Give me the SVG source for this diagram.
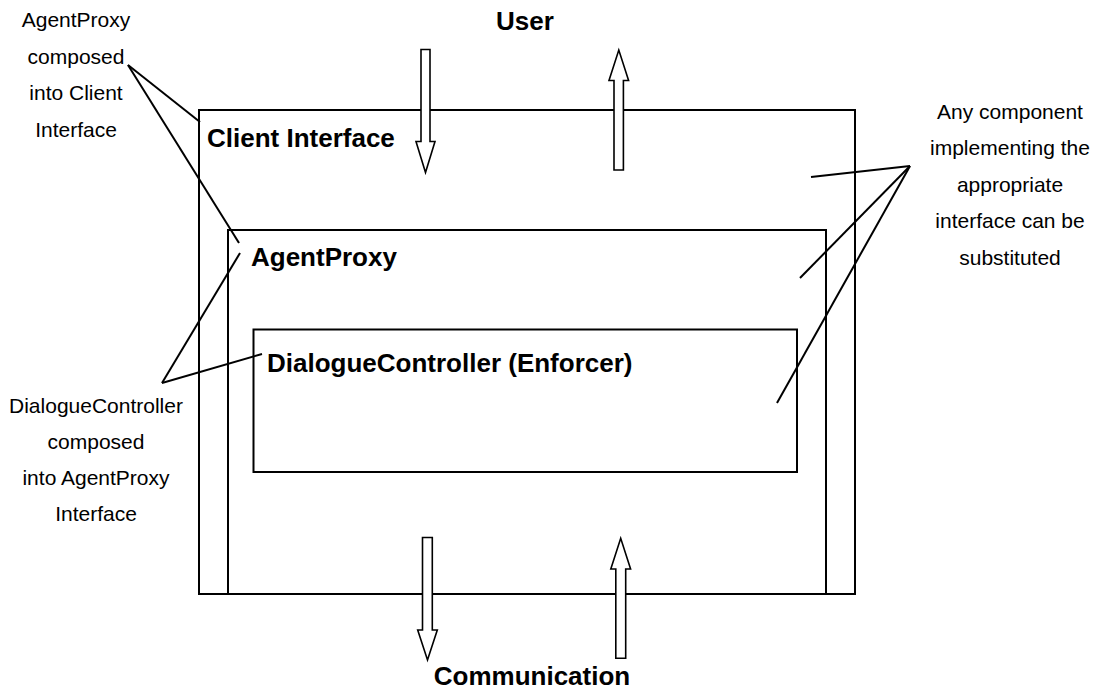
<svg xmlns="http://www.w3.org/2000/svg" width="1098" height="697" viewBox="0 0 1098 697">
  <style>
    .box { fill: none; stroke: #000; stroke-width: 2; }
    .title { font-family: "Liberation Sans", Arial, sans-serif; font-weight: bold; font-size: 26px; fill: #000; }
    .note { font-family: "Liberation Sans", Arial, sans-serif; font-size: 21px; fill: #000; text-anchor: middle; }
    .leader { stroke: #000; stroke-width: 2; fill: none; }
    .flow { fill: #fff; stroke: #000; stroke-width: 1.6; stroke-linejoin: miter; }
  </style>
  <rect width="1098" height="697" fill="#fff"/>

  <!-- nested components -->
  <g id="client-interface">
    <rect class="box" x="199" y="110" width="656" height="484"/>
    <text class="title" x="207" y="147">Client Interface</text>
  </g>
  <g id="agent-proxy">
    <rect class="box" x="228" y="230" width="598" height="364"/>
    <text class="title" x="251" y="266">AgentProxy</text>
  </g>
  <g id="dialogue-controller">
    <rect class="box" x="253.5" y="329.5" width="543.5" height="142.5"/>
    <text class="title" x="267" y="372">DialogueController (Enforcer)</text>
  </g>

  <!-- external endpoints -->
  <g id="user">
    <text class="title" x="525" y="30" text-anchor="middle">User</text>
  </g>
  <g id="communication">
    <text class="title" x="532" y="685" text-anchor="middle">Communication</text>
  </g>

  <!-- annotations -->
  <g id="note-agentproxy">
    <text class="note" x="76" y="27">AgentProxy</text>
    <text class="note" x="76" y="63.5">composed</text>
    <text class="note" x="76" y="100">into Client</text>
    <text class="note" x="76" y="136.5">Interface</text>
  </g>
  <g id="note-dialogue">
    <text class="note" x="96" y="412.5">DialogueController</text>
    <text class="note" x="96" y="448.5">composed</text>
    <text class="note" x="96" y="484.5">into AgentProxy</text>
    <text class="note" x="96" y="520.5">Interface</text>
  </g>
  <g id="note-substitution">
    <text class="note" x="1010" y="118.5">Any component</text>
    <text class="note" x="1010" y="155">implementing the</text>
    <text class="note" x="1010" y="191.5">appropriate</text>
    <text class="note" x="1010" y="228">interface can be</text>
    <text class="note" x="1010" y="264.5">substituted</text>
  </g>

  <!-- connectors: annotation leaders and data-flow arrows -->
  <g id="connectors">
    <line class="leader" x1="128" y1="65" x2="200" y2="122"/>
    <line class="leader" x1="128" y1="65" x2="239" y2="243"/>
    <line class="leader" x1="162" y1="383" x2="240" y2="253"/>
    <line class="leader" x1="162" y1="383" x2="262" y2="354"/>
    <line class="leader" x1="910" y1="166" x2="811" y2="177"/>
    <line class="leader" x1="910" y1="166" x2="800" y2="278"/>
    <line class="leader" x1="910" y1="166" x2="777" y2="403"/>

    <!-- user -> client -->
    <path class="flow" d="M421 49.5 H430 V141.5 H435 L425.5 172.5 L416 141.5 H421 Z"/>
    <!-- client -> user -->
    <path class="flow" d="M614 170 V80.5 H609 L618.8 50 L628.6 80.5 H623.4 V170 Z"/>
    <!-- proxy -> communication -->
    <path class="flow" d="M422.5 537.5 H432.3 V630 H437.3 L427.5 660 L417.7 630 H422.5 Z"/>
    <!-- communication -> proxy -->
    <path class="flow" d="M615.8 658.3 V569 H610.8 L620.7 538.3 L630.6 569 H625.7 V658.3 Z"/>
  </g>
</svg>
